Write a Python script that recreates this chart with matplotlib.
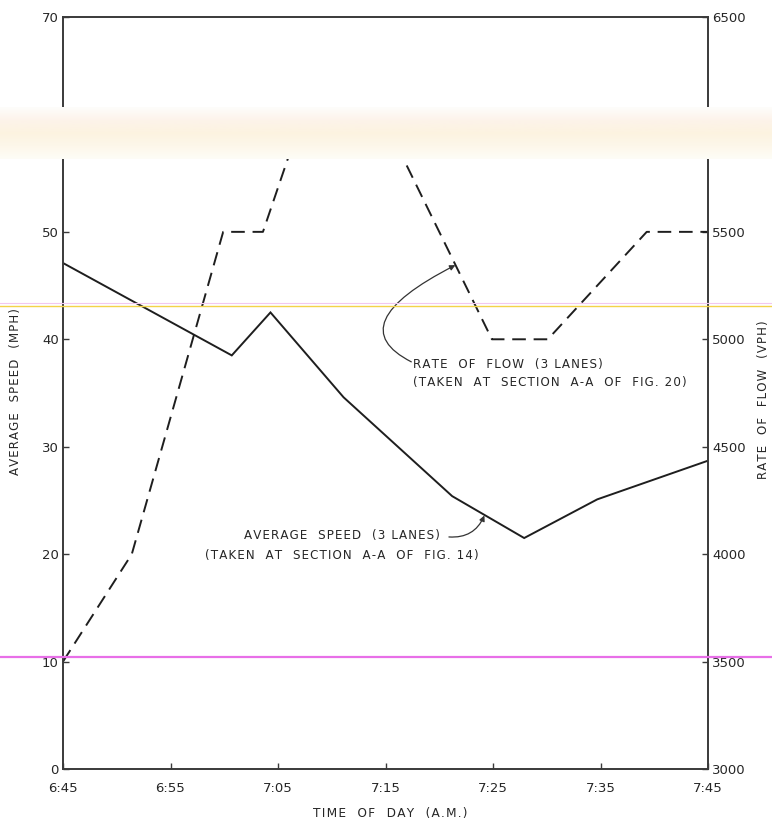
import numpy as np
import matplotlib
matplotlib.use("Agg")
import matplotlib.pyplot as plt
from matplotlib.colors import LinearSegmentedColormap
from matplotlib.lines import Line2D

# time axis in minutes after 6:45 a.m.
speed_t = [0, 15.7, 19.3, 26.1, 36.2, 42.9, 49.7, 60]
speed_mph = [47.1, 38.5, 42.5, 34.6, 25.4, 21.5, 25.1, 28.7]

flow_t = [0, 6.4, 14.9, 18.6, 22.0, 30.1, 39.9, 45.1, 54.3, 60]
flow_vph = [3500, 4000, 5500, 5500, 6000, 6000, 5000, 5000, 5500, 5500]

time_ticks = [0, 10, 20, 30, 40, 50, 60]
time_labels = ["6:45", "6:55", "7:05", "7:15", "7:25", "7:35", "7:45"]
speed_ticks = list(range(0, 71, 10))
flow_ticks = list(range(3000, 6501, 500))

W, H = 772, 824
INK = "#262626"


def spaced(s):
    # old lettering-guide look: a bit of air between letters
    return "\u200a".join(s)


def fx(px):
    return px / W


def fy(py):
    return 1 - py / H


fig = plt.figure(figsize=(W / 100, H / 100), dpi=100)
ax = fig.add_axes([fx(63), fy(769), 645 / W, 752 / H])
ax2 = ax.twinx()

ax.plot(speed_t, speed_mph, color="#1e1e1e", lw=1.4, solid_joinstyle="miter")
ax2.plot(flow_t, flow_vph, color="#1e1e1e", lw=1.4, dashes=(7, 4))

ax.set_xlim(0, 60)
ax.set_ylim(0, 70)
ax2.set_ylim(3000, 6500)
ax.set_xticks(time_ticks)
ax.set_xticklabels(time_labels)
ax.set_yticks(speed_ticks)
ax2.set_yticks(flow_ticks)

for a in (ax, ax2):
    for sp in a.spines.values():
        sp.set_color("#3a3a3a")
        sp.set_linewidth(1.2)
    a.tick_params(direction="in", length=4, width=1, color="#3a3a3a",
                  labelsize=9.5, labelcolor=INK, pad=3)
ax.tick_params(axis="x", pad=9)

# annotations
ax.text(32.6, 36.8, spaced("RATE  OF  FLOW  (3 LANES)") + "\n" +
        spaced("(TAKEN  AT  SECTION  A-A  OF  FIG. 20)"),
        ha="left", va="center", fontsize=8.6, color=INK, linespacing=1.55)
ax2.annotate("", xy=(36.5, 5345), xytext=(32.4, 37.9), textcoords=ax.transData,
             arrowprops=dict(arrowstyle="-|>", color="#333333", lw=0.9,
                             mutation_scale=8,
                             connectionstyle="angle3,angleA=153,angleB=27",
                             shrinkA=0, shrinkB=0))

ax.text(25.95, 20.8, spaced("AVERAGE  SPEED  (3 LANES)") + "\n" +
        spaced("(TAKEN  AT  SECTION  A-A  OF  FIG. 14)"),
        ha="center", va="center", fontsize=8.6, color=INK, linespacing=1.75)
ax.annotate("", xy=(39.2, 23.6), xytext=(35.9, 21.6),
            arrowprops=dict(arrowstyle="-|>", color="#333333", lw=0.9,
                            mutation_scale=8,
                            connectionstyle="arc3,rad=0.35",
                            shrinkA=0, shrinkB=0))

# axis titles
fig.text(fx(16), fy(392), spaced("AVERAGE  SPEED  (MPH)"), rotation=90,
         ha="center", va="center", fontsize=8.5, color=INK)
fig.text(fx(763), fy(400), spaced("RATE  OF  FLOW  (VPH)"), rotation=90,
         ha="center", va="center", fontsize=8.5, color=INK)
fig.text(fx(390), fy(814), spaced("TIME  OF  DAY  (A.M.)"),
         ha="center", va="center", fontsize=8.7, color=INK)

# scan artefacts: pale fold band and two coloured scanner streaks
band = fig.add_axes([0, fy(159), 1, 52 / H], zorder=10)
band_cmap = LinearSegmentedColormap.from_list(
    "band", ["#fefdfb", "#fdf3ea", "#fcf3e0", "#fdf7ea", "#fefdf7"])
band.imshow(np.linspace(0, 1, 64).reshape(-1, 1), aspect="auto",
            cmap=band_cmap, extent=[0, 1, 1, 0])
band.set_axis_off()

fig.add_artist(Line2D([0, 1], [fy(303), fy(303)], color="#f2c8f0",
                      lw=0.8, zorder=11))
fig.add_artist(Line2D([0, 1], [fy(305.5), fy(305.5)], color="#f3d34a",
                      lw=1.0, zorder=11))
fig.add_artist(Line2D([0, 1], [fy(656.5), fy(656.5)], color="#e86fe8",
                      lw=1.6, zorder=11))

fig.savefig("out.png", dpi=100)
